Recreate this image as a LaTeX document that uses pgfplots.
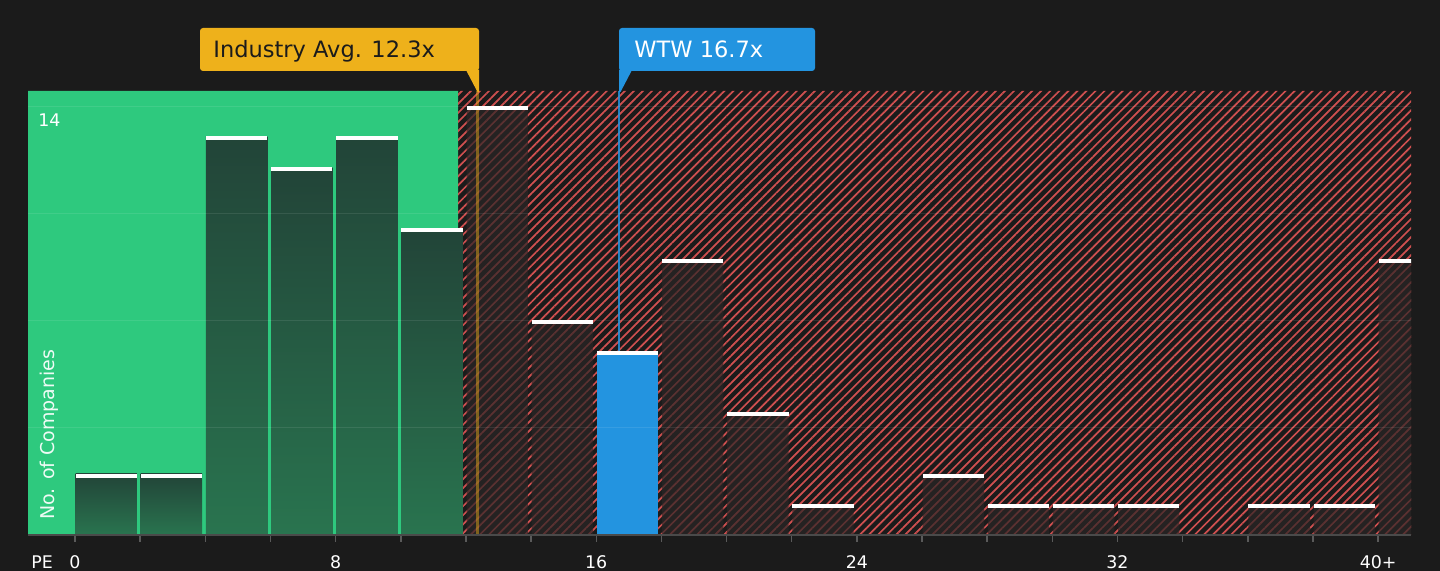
\documentclass[border=0pt]{standalone}
\usepackage{fontspec}
\setmainfont{DejaVu Sans}
\usepackage{pgfplots}
\usepackage{pgfplotstable}
\pgfplotsset{compat=1.18}
\usetikzlibrary{patterns.meta}
\definecolor{bg}{HTML}{1B1B1B}
\definecolor{zgreen}{HTML}{2EC97E}
\definecolor{hatch}{HTML}{D05050}
\definecolor{gtop}{HTML}{224438}
\definecolor{gbot}{HTML}{29744F}
\definecolor{rbar}{HTML}{2A2525}
\definecolor{wblue}{HTML}{2394E0}
\definecolor{iyel}{HTML}{EEB11B}
\definecolor{axgray}{HTML}{4A4A4A}
\definecolor{tickgray}{HTML}{5A5A5A}

% bins [0,2), [2,4), ... ; x = bin start + 1
\pgfplotstableread{
x y
13 14
15 7
19 9
21 4
23 1
27 2
29 1
31 1
33 1
37 1
39 1
41 9
}\redbins
\pgfplotstableread{
x y
17 6
}\bluebin
\pgfplotstableread{
x y
1 2
3 2
5 13
7 12
9 13
11 10
13 14
15 7
17 6
19 9
21 4
23 1
27 2
29 1
31 1
33 1
37 1
39 1
41 9
}\allbins

\begin{document}
\begin{tikzpicture}
\fill[bg] (0,0) rectangle (720pt,285.5pt);
\begin{axis}[
  at={(14pt,18pt)}, anchor=south west,
  scale only axis, width=691.5pt, height=222pt,
  xmin=-1.443, xmax=41.01, ymin=0, ymax=14.49,
  axis on top,
  axis line style={draw=none},
  xtick={0,8,16,24,32,40}, xticklabels={0,8,16,24,32,40+},
  minor xtick={2,4,...,38},
  xtick pos=left,
  tick align=outside,
  major tick length=3.5pt, minor tick length=3.5pt,
  tick style={tickgray, line width=0.75pt},
  ytick={3.5,7,10.5,14}, yticklabels={}, ytick style={draw=none},
  ymajorgrids, grid style={white, opacity=0.09, line width=0.5pt},
  xticklabel style={font=\fontsize{8.7}{10}\selectfont, text=white, anchor=base, yshift=-13.5pt},
  clip marker paths=true,
  greenbar/.style={ybar, bar width=1.885, bar shift=-0.65pt, draw=none, top color=gtop, bottom color=gbot},
]
% zones
\addplot[draw=none, fill=zgreen] coordinates {(-1.443,0) (-1.443,14.49) (11.76,14.49) (11.76,0)} \closedcycle;
\addplot[draw=none, pattern={Lines[angle=45,distance=3.2pt,line width=0.85pt]}, pattern color=hatch]
  coordinates {(11.76,0) (11.76,14.49) (41.01,14.49) (41.01,0)} \closedcycle;
% bars in the green zone, one plot each so each bar gets its own shading
\addplot[greenbar] coordinates {(1,2)};
\addplot[greenbar] coordinates {(3,2)};
\addplot[greenbar] coordinates {(5,13)};
\addplot[greenbar] coordinates {(7,12)};
\addplot[greenbar] coordinates {(9,13)};
\addplot[greenbar] coordinates {(11,10)};
\addplot[ybar, bar width=1.885, bar shift=-0.65pt, draw=none, fill=rbar, fill opacity=0.7] table {\redbins};
\addplot[ybar, bar width=1.885, bar shift=-0.65pt, draw=none, fill=wblue] table {\bluebin};
% markers
\addplot[iyel, opacity=0.45, line width=1.5pt] coordinates {(12.35,0) (12.35,14.49)};
\addplot[wblue, opacity=0.85, line width=1pt] coordinates {(16.7,6) (16.7,14.49)};
% caps
\addplot[only marks, mark=-, mark size=15.33pt, white,
  mark options={line width=2pt, xshift=-0.65pt, yshift=-0.9pt}] table {\allbins};
\end{axis}
\begin{scope}[x=0.5pt, y=-0.5pt, yshift=285.5pt]
  \draw[axgray, line width=1pt] (28,535) -- (1411,535);
  \node[anchor=base west, inner sep=0, text=white, font=\fontsize{8.7}{10}\selectfont] at (31,569) {PE};
  \node[anchor=base west, inner sep=0, text=white, font=\fontsize{8.7}{10}\selectfont] at (38,127) {14};
  \node[rotate=90, anchor=base west, inner sep=0, text=white!92!zgreen, font=\fontsize{9.5}{11}\selectfont] at (54.5,520) {No. of Companies};
  \fill[iyel, rounded corners=1.5pt] (200,28) rectangle (479,71);
  \fill[iyel] (466,70) -- (479,70) -- (479,92) -- (477.5,92) -- cycle;
  \node[anchor=base west, inner sep=0, text=bg, font=\fontsize{11.25}{13}\selectfont] at (213,58) {Industry Avg. 12.3x};
  \fill[wblue, rounded corners=1.5pt] (619,28) rectangle (815,71);
  \fill[wblue] (619,70) -- (632,70) -- (620.5,92) -- (619,92) -- cycle;
  \node[anchor=base west, inner sep=0, text=white, font=\fontsize{11.25}{13}\selectfont] at (634,58) {WTW 16.7x};
\end{scope}
\pgfresetboundingbox
\path[use as bounding box] (0,0) rectangle (720pt,285.5pt);
\end{tikzpicture}
\end{document}
